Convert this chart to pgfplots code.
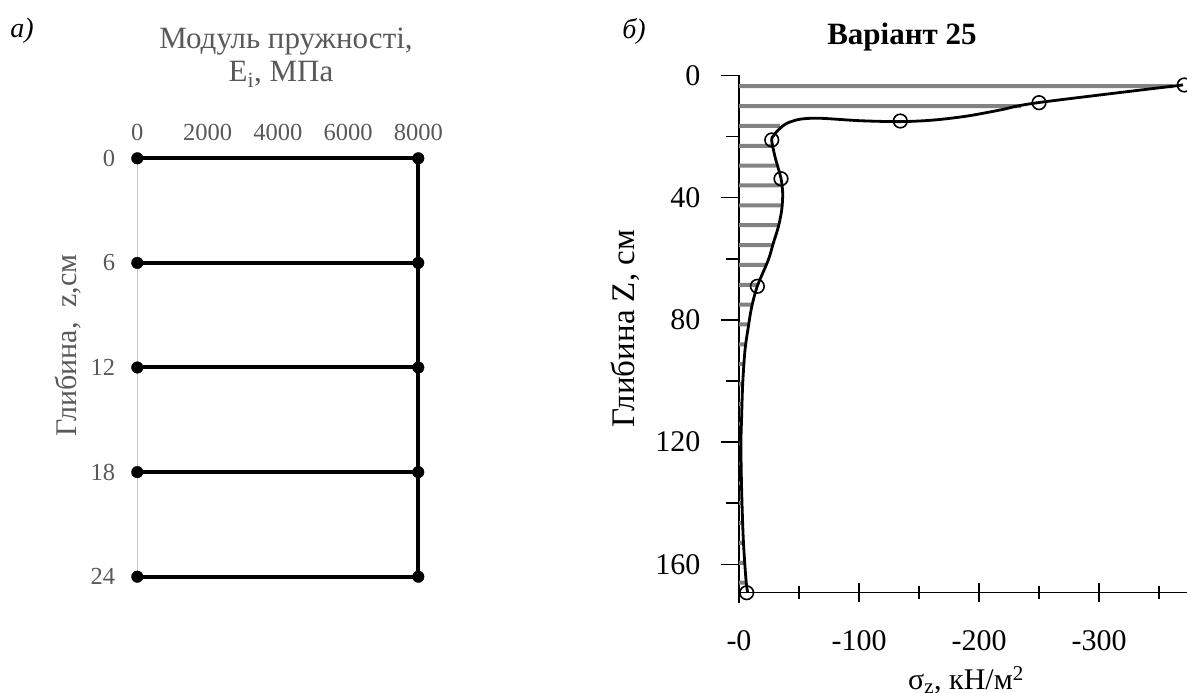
\documentclass[border=0pt]{standalone}
\usepackage{fontspec}
\setmainfont{Liberation Serif}
\usepackage{pgfplots}
\pgfplotsset{compat=1.18}
\definecolor{tgray}{RGB}{89,89,89}
\definecolor{hatch}{RGB}{130,130,130}
\definecolor{axgray}{RGB}{200,200,200}
\begin{document}
\begin{tikzpicture}
\path[use as bounding box] (0,0) rectangle (1187pt,693pt);
% ---------------- panel a
\begin{axis}[
  at={(137.3pt,116.3pt)}, anchor=south west,
  scale only axis, width=281pt, height=418.4pt,
  xmin=0, xmax=8000, ymin=0, ymax=24, y dir=reverse,
  axis line style={draw=none},
  xtick={0,2000,4000,6000,8000}, ytick={0,6,12,18,24},
  major tick length=0pt,
  xticklabel pos=right,
  /pgf/number format/assume math mode=true,
  /pgf/number format/1000 sep={},
  ticklabel style={font=\fontsize{24.5}{24}\selectfont, text=tgray},
  xticklabel style={anchor=base, inner sep=0pt, yshift=18pt},
  yticklabel style={anchor=east, inner sep=0pt, xshift=-22pt},
  scaled x ticks=false,
  clip=false,
]
\draw[draw=axgray, line width=1pt] (axis cs:0,0) -- (axis cs:0,24);
\addplot[black, line width=4pt] coordinates {(8000,0) (8000,24)};
\addplot[black, line width=4pt, mark=*, mark size=5.8pt, mark options={line width=0.4pt}] coordinates {(0,0) (8000,0)};
\addplot[black, line width=4pt, mark=*, mark size=5.8pt, mark options={line width=0.4pt}] coordinates {(0,6) (8000,6)};
\addplot[black, line width=4pt, mark=*, mark size=5.8pt, mark options={line width=0.4pt}] coordinates {(0,12) (8000,12)};
\addplot[black, line width=4pt, mark=*, mark size=5.8pt, mark options={line width=0.4pt}] coordinates {(0,18) (8000,18)};
\addplot[black, line width=4pt, mark=*, mark size=5.8pt, mark options={line width=0.4pt}] coordinates {(0,24) (8000,24)};
\end{axis}
\node[font=\fontsize{31}{32}\selectfont, text=tgray, anchor=base] at (286pt,644.5pt) {Модуль пружності,};
\node[font=\fontsize{31}{32}\selectfont, text=tgray, anchor=base] at (281pt,611.3pt) {E\textsubscript{i}, МПа};
\node[font=\fontsize{30}{32}\selectfont, text=tgray, rotate=90, anchor=west, inner sep=0pt] at (68.5pt,256pt) {Глибина,\ \ z,см};
\node[font=\fontsize{28}{32}\selectfont\itshape] at (22pt,662pt) {а)};
% ---------------- panel b
\begin{axis}[
  at={(739pt,100.3pt)}, anchor=south west,
  scale only axis, width=448pt, height=517.2pt,
  xmin=0, xmax=373.3, ymin=0, ymax=169.3, y dir=reverse,
  axis x line*=bottom, axis y line*=left,
  axis line style={black, line width=1.5pt, -},
  every tick/.style={black, line width=1.5pt},
  xtick={0,100,200,300}, xticklabels={-0,-100,-200,-300},
  minor xtick={50,150,250,350},
  ytick={0,40,80,120,160}, minor ytick={20,60,100,140},
  xtick align=center, ytick align=outside,
  major tick length=18.5pt, minor tick length=13pt,
  /pgf/number format/assume math mode=true,
  ticklabel style={font=\fontsize{30}{30}\selectfont},
  xticklabel style={anchor=base, inner sep=0pt, yshift=-49pt},
  yticklabel style={anchor=east, inner sep=0pt, xshift=-20pt},
  clip=false,
]
\draw[black, line width=1.5pt] (axis cs:0,169.3) -- ++(0pt,-10pt);
% hatching: horizontal bars from the axis to the curve
\addplot[xbar, bar width=4pt, bar shift=0pt, fill=hatch, draw=none] coordinates {
(362,3.5) (235,10) (34,16.5) (27.5,23) (32,29.5) (35.5,36) (35.5,42.5) (32.5,49)
(28,55.5) (23,62) (15.5,68.5) (11,75) (8,81.5) (5.5,88) (4,94.5) (3,101)
(2.5,107.5) (2,114) (1.5,120.5) (1.7,127) (2,133.5) (2.5,140) (3,146.5) (3.6,153) (4.8,159.5) (6.5,166)};
% smooth curve
\addplot[black, line width=2.8pt, smooth, tension=0.5] coordinates {
(370,3.1) (249,8.9) (217.5,11.3) (189.7,13.3) (161.7,14.6) (134,15.1) (100.8,14.8)
(67.5,14.0) (51,14.3) (39.7,15.7) (32.8,17.8) (28.6,19.8) (27.2,21.1) (30,26.6)
(35,33.7) (36.4,38.6) (35.6,44) (32.8,49.5) (28.6,54.9) (24.4,60.4) (15.3,68.9)
(10.6,75.7) (7.8,82.2) (5,89.9) (3.1,100.8) (2.2,111.7) (1.6,121) (2.2,135.7)
(3.6,152) (5.8,165) (7.2,169.2)};
% calculated points
\addplot[only marks, mark=o, mark size=6.8pt, mark options={black, line width=1.6pt, fill=white}] coordinates {
(371,3.1) (250,8.9) (134.4,14.9) (27.3,21.1) (35,33.8) (15.3,69) (6.4,169.3)};
\end{axis}
\node[font=\fontsize{31}{32}\selectfont\bfseries, anchor=base] at (902pt,648pt) {Варіант 25};
\node[font=\fontsize{33}{36}\selectfont, rotate=90, anchor=west, inner sep=0pt] at (625pt,265pt) {Глибина Z, см};
\node[font=\fontsize{30}{32}\selectfont, anchor=base] at (966pt,3.7pt) {σ\textsubscript{z}, кН/м\textsuperscript{2}};
\node[font=\fontsize{28}{32}\selectfont\itshape] at (634pt,661.5pt) {б)};
\end{tikzpicture}
\end{document}
